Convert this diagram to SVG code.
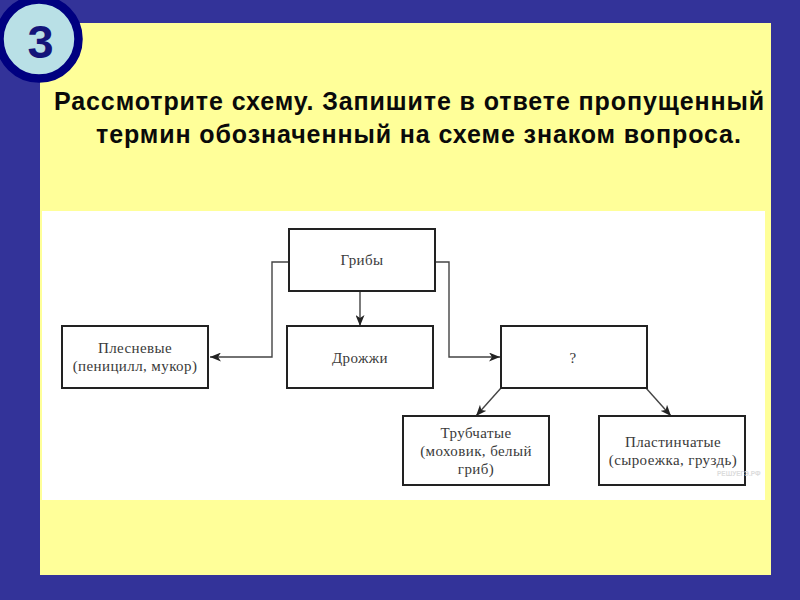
<svg xmlns="http://www.w3.org/2000/svg" width="800" height="600" viewBox="0 0 800 600">
<defs>
<marker id="arrow" viewBox="0 0 11 9" refX="11" refY="4.5" markerWidth="11" markerHeight="9" markerUnits="userSpaceOnUse" orient="auto"><path d="M0 0L11 4.5L0 9L3 4.5Z" fill="#222"/></marker>
</defs>
<style>
.box{fill:#fff;stroke:#222;stroke-width:2}
.lbl{font-family:"Liberation Serif",serif;font-size:15px;fill:#3a3a3a;text-anchor:middle;letter-spacing:.4px}
.head{font-family:"Liberation Sans",sans-serif;font-weight:700;font-size:25px;fill:#0a0a0a;letter-spacing:.9px}
.conn{fill:none;stroke:#444;stroke-width:1.4;marker-end:url(#arrow)}
</style>
<rect width="800" height="600" fill="#333399"/>
<rect x="40" y="23" width="731" height="552" fill="#ffff99"/>
<rect x="42" y="211" width="723" height="289" fill="#fff"/>
<g id="badge"><circle cx="39" cy="39" r="39.500" fill="#b9e0e6" stroke="#000080" stroke-width="8.500"/>
<text x="40.500" y="58" text-anchor="middle" font-family="Liberation Sans,sans-serif" font-weight="700" font-size="47" fill="#14147a">3</text></g>
<g id="title">
<text class="head" x="54" y="109.500">Рассмотрите схему. Запишите в ответе пропущенный</text>
<text class="head" x="96" y="143">термин обозначенный на схеме знаком вопроса.</text>
</g>
<g id="connectors">
<path class="conn" d="M289 262H272V357H210"/>
<path class="conn" d="M360 291V326"/>
<path class="conn" d="M435 262H449V357H500"/>
<path class="conn" d="M501 388L476 416"/>
<path class="conn" d="M646 388L671 416"/>
</g>
<g id="griby"><rect class="box" x="289" y="229" width="146" height="62"/><text class="lbl" x="362" y="265">Грибы</text></g>
<g id="plesnevye"><rect class="box" x="62" y="326" width="146" height="62"/><text class="lbl" x="135" y="353">Плесневые</text><text class="lbl" x="135" y="371">(пеницилл, мукор)</text></g>
<g id="drozhzhi"><rect class="box" x="287" y="326" width="146" height="62"/><text class="lbl" x="360" y="363">Дрожжи</text></g>
<g id="unknown"><rect class="box" x="501" y="326" width="146" height="62"/><text class="lbl" x="573" y="363">?</text></g>
<g id="trubchatye"><rect class="box" x="403" y="416" width="146" height="69"/><text class="lbl" x="476" y="438">Трубчатые</text><text class="lbl" x="476" y="456">(моховик, белый</text><text class="lbl" x="476" y="474">гриб)</text></g>
<g id="plastinchatye"><rect class="box" x="599" y="416" width="146" height="69"/><text class="lbl" x="673" y="447">Пластинчатые</text><text class="lbl" x="673" y="465">(сыроежка, груздь)</text></g>
<text x="717" y="476" font-family="Liberation Sans,sans-serif" font-size="6.500" font-weight="700" fill="#dcdcdc">РЕШУЕГЭ.РФ</text>
</svg>
